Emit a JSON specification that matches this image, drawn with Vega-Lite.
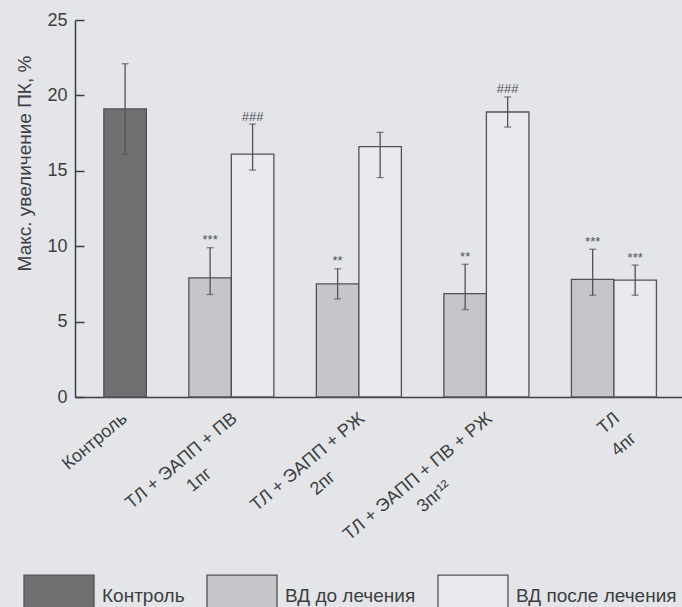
{
  "$schema": "https://vega.github.io/schema/vega-lite/v6.json",
  "width": 607,
  "height": 377,
  "autosize": {"type": "none"},
  "padding": {"left": 75, "top": 20, "right": 0, "bottom": 210},
  "background": "#e3e5e9",
  "config": {
    "view": {"stroke": null},
    "font": "Liberation Sans, Arial, sans-serif"
  },
  "data": {
    "values": [
      {"bar": "Контроль", "group": "Контроль", "series": "Контроль", "value": 19.1, "low": 16.1, "high": 22.1, "sig": ""},
      {"bar": "1пг до", "group": "ТЛ + ЭАПП + ПВ 1пг", "series": "ВД до лечения", "value": 7.9, "low": 6.8, "high": 9.9, "sig": "***"},
      {"bar": "1пг после", "group": "ТЛ + ЭАПП + ПВ 1пг", "series": "ВД после лечения", "value": 16.1, "low": 15.05, "high": 18.1, "sig": "###"},
      {"bar": "2пг до", "group": "ТЛ + ЭАПП + РЖ 2пг", "series": "ВД до лечения", "value": 7.5, "low": 6.5, "high": 8.5, "sig": "**"},
      {"bar": "2пг после", "group": "ТЛ + ЭАПП + РЖ 2пг", "series": "ВД после лечения", "value": 16.6, "low": 14.55, "high": 17.55, "sig": ""},
      {"bar": "3пг до", "group": "ТЛ + ЭАПП + ПВ + РЖ 3пг", "series": "ВД до лечения", "value": 6.85, "low": 5.8, "high": 8.8, "sig": "**"},
      {"bar": "3пг после", "group": "ТЛ + ЭАПП + ПВ + РЖ 3пг", "series": "ВД после лечения", "value": 18.9, "low": 17.9, "high": 19.9, "sig": "###"},
      {"bar": "4пг до", "group": "ТЛ 4пг", "series": "ВД до лечения", "value": 7.8, "low": 6.75, "high": 9.8, "sig": "***"},
      {"bar": "4пг после", "group": "ТЛ 4пг", "series": "ВД после лечения", "value": 7.75, "low": 6.75, "high": 8.75, "sig": "***"}
    ]
  },
  "encoding": {
    "x": {
      "field": "bar",
      "type": "nominal",
      "sort": null,
      "scale": {
        "domain": ["Контроль", "s1", "1пг до", "1пг после", "s2", "2пг до", "2пг после", "s3", "3пг до", "3пг после", "s4", "4пг до", "4пг после"],
        "paddingInner": 0,
        "paddingOuter": 0.64,
        "align": 0.53
      },
      "axis": {
        "title": null,
        "values": ["Контроль", "1пг до", "2пг до", "3пг до", "4пг до"],
        "labelExpr": "datum.value == 'Контроль' ? 'Контроль' : datum.value == '1пг до' ? ['ТЛ + ЭАПП + ПВ', '1пг\u00a0\u00a0\u00a0\u00a0\u00a0\u00a0\u00a0\u00a0\u00a0\u00a0\u00a0\u2060'] : datum.value == '2пг до' ? ['ТЛ + ЭАПП + РЖ', '2пг\u00a0\u00a0\u00a0\u00a0\u00a0\u00a0\u00a0\u00a0\u00a0\u00a0\u00a0\u00a0\u2060'] : datum.value == '3пг до' ? ['ТЛ + ЭАПП + ПВ + РЖ', '3пг¹²\u00a0\u00a0\u00a0\u00a0\u00a0\u00a0\u00a0\u00a0\u00a0\u00a0\u00a0\u00a0\u00a0\u00a0\u00a0\u2060'] : ['ТЛ', '4пг']",
        "labelAngle": -40,
        "labelAlign": "right",
        "labelBaseline": "top",
        "labelFontSize": 18,
        "labelLineHeight": 26,
        "labelPadding": 12,
        "labelLimit": 400,
        "labelOverlap": false,
        "labelColor": "#3c3e40",
        "labelOffset": {"condition": {"test": "datum.value === 'Контроль'", "value": -6}, "value": 19},
        "ticks": false,
        "domainColor": "#3c3e40",
        "domainWidth": 1.5
      }
    }
  },
  "layer": [
    {
      "mark": {"type": "bar", "stroke": "#505254", "strokeWidth": 1.3},
      "encoding": {
        "y": {
          "field": "value",
          "type": "quantitative",
          "title": "Макс. увеличение ПК, %",
          "scale": {"domain": [0, 25], "nice": false},
          "axis": {
            "values": [0, 5, 10, 15, 20, 25],
            "grid": false,
            "tickSize": -9,
            "tickWidth": 1.5,
            "tickColor": "#3c3e40",
            "domainColor": "#3c3e40",
            "domainWidth": 1.5,
            "labelFontSize": 18,
            "labelPadding": 17,
            "labelColor": "#3c3e40",
            "titleFontSize": 19,
            "titleFontWeight": "normal",
            "titleColor": "#3c3e40",
            "titleAngle": -90,
            "titleBaseline": "middle",
            "titleAlign": "center",
            "titleX": -51,
            "titleY": 143
          }
        },
        "fill": {
          "field": "series",
          "type": "nominal",
          "scale": {
            "domain": ["Контроль", "ВД до лечения", "ВД после лечения"],
            "range": ["#6e7072", "#c4c6c9", "#e8eaed"]
          },
          "legend": {
            "title": null,
            "orient": "none",
            "direction": "horizontal",
            "legendX": -52,
            "legendY": 540,
            "symbolType": "M-1,-0.6H1V0.6H-1Z",
            "symbolSize": 4900,
            "symbolStrokeColor": "#505254",
            "symbolStrokeWidth": 1.3,
            "symbolOpacity": 1,
            "labelFontSize": 19,
            "labelColor": "#3c3e40",
            "labelOffset": 7,
            "columnPadding": 19,
            "labelLimit": 300
          }
        }
      }
    },
    {
      "mark": {
        "type": "errorbar",
        "color": "#505254",
        "rule": {"strokeWidth": 1.3},
        "ticks": {"size": 7, "thickness": 1.3}
      },
      "encoding": {
        "y": {"field": "low", "type": "quantitative", "title": "Макс. увеличение ПК, %"},
        "y2": {"field": "high"}
      }
    },
    {
      "mark": {"type": "text", "baseline": "alphabetic", "dy": -3.5, "fontSize": 13, "color": "#505254"},
      "encoding": {
        "y": {"field": "high", "type": "quantitative", "title": "Макс. увеличение ПК, %"},
        "text": {"field": "sig"}
      }
    }
  ]
}
